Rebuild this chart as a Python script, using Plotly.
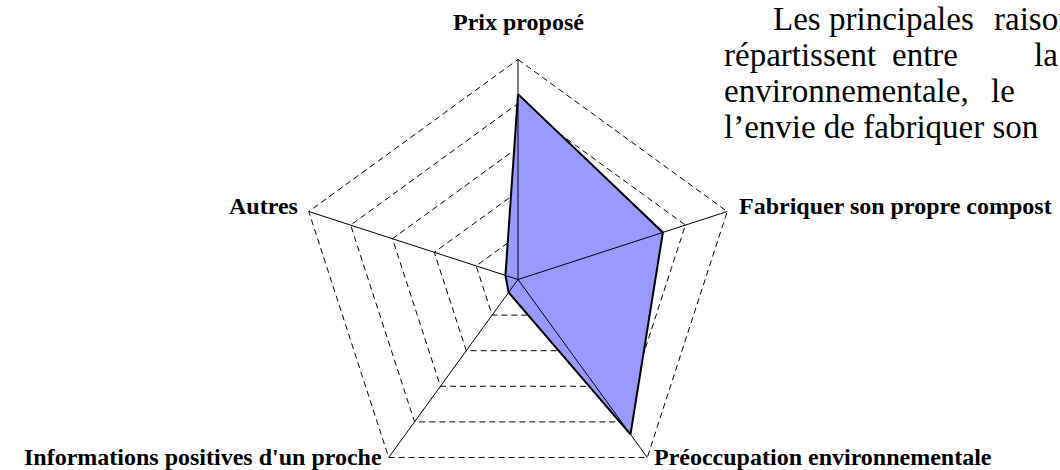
import numpy as np
import plotly.graph_objects as go

# ---------------- data ----------------
categories = [
    "Prix proposé",
    "Fabriquer son propre compost",
    "Préoccupation environnementale",
    "Informations positives d'un proche",
    "Autres",
]
values = [33.7, 27.7, 34.8, 2.9, 2.4]          # % of answers
ring_levels = [8, 16, 24, 32, 40]               # dashed grid rings
axis_max = 40

# paragraph next to the chart (cut by the page edge)
para_lines = [
    ["Les", "principales", "raisons"],
    ["répartissent", "entre", "la"],
    ["environnementale,", "le"],
    ["l’envie de fabriquer son"],
]

# ---------------- styles / layout ----------------
W, H = 1060, 470
CX, CY, R = 518, 279.5, 220          # pixel centre and radius of the outer ring
FILL = "#9999ff"
LABEL_FONT = dict(family="Liberation Serif", size=24, color="black")
BODY_FONT = dict(family="Liberation Serif", size=33, color="black")

label_style = [  # xanchor, xshift, yshift
    ("center", 0, 38),
    ("left", 10, 6),
    ("left", 5, 0),
    ("right", -5, 0),
    ("right", -9, 6),
]
para_x = [[772, 828, 993], [723, 891, 1033], [723, 990], [723]]
para_baseline = [29.8, 65.5, 102.2, 138.0]

n = len(categories)
theta = np.deg2rad(90 - 360 / n * np.arange(n))
ux, uy = np.cos(theta), np.sin(theta)


def closed(a):
    return np.append(a, a[0])


fig = go.Figure()

# dashed rings
for lv in ring_levels:
    rr = lv / axis_max
    fig.add_trace(go.Scatter(
        x=closed(rr * ux), y=closed(rr * uy), mode="lines",
        line=dict(color="black", width=1, dash="6px,4px"),
        hoverinfo="skip", showlegend=False))

# data polygon
rv = np.array(values) / axis_max
fig.add_trace(go.Scatter(
    x=closed(rv * ux), y=closed(rv * uy), mode="lines",
    fill="toself", fillcolor=FILL,
    line=dict(color="black", width=2),
    name="Raisons", showlegend=False))

# solid spokes
sx, sy = [], []
for k in range(n):
    sx += [0, ux[k], None]
    sy += [0, uy[k], None]
fig.add_trace(go.Scatter(
    x=sx, y=sy, mode="lines", line=dict(color="black", width=1),
    hoverinfo="skip", showlegend=False))

# category labels at the outer vertices
for k, cat in enumerate(categories):
    xa, xs, ys = label_style[k]
    fig.add_annotation(
        x=ux[k], y=uy[k], xref="x", yref="y", text="<b>%s</b>" % cat,
        showarrow=False, xanchor=xa, yanchor="middle", xshift=xs, yshift=ys,
        font=LABEL_FONT)

# paragraph text
for li, words in enumerate(para_lines):
    ymid = para_baseline[li] - 0.33 * BODY_FONT["size"]
    for wi, w in enumerate(words):
        fig.add_annotation(
            x=para_x[li][wi] / W, y=1 - ymid / H, xref="paper", yref="paper",
            text=w, showarrow=False, xanchor="left", yanchor="middle",
            font=BODY_FONT, borderpad=0)

fig.update_xaxes(visible=False, range=[-CX / R, (W - CX) / R])
fig.update_yaxes(visible=False, range=[-(H - CY) / R, CY / R])
fig.update_layout(
    width=W, height=H, margin=dict(l=0, r=0, t=0, b=0),
    plot_bgcolor="white", paper_bgcolor="white", showlegend=False)

fig.write_html(
    "out.html",
    config={"displayModeBar": False},
    post_script="document.body.style.margin='0';document.body.style.overflow='hidden';")
